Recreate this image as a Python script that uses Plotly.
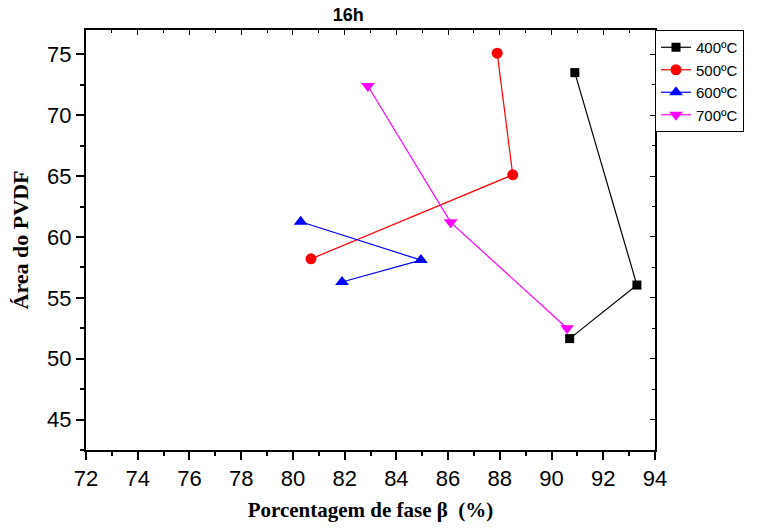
import plotly.graph_objects as go

series_names = ["400ºC", "500ºC", "600ºC", "700ºC"]
x_400 = [90.9, 93.3, 90.7]
y_400 = [73.5, 56.05, 51.65]
x_500 = [87.9, 88.5, 80.7]
y_500 = [75.1, 65.1, 58.2]
x_600 = [80.3, 84.95, 81.9]
y_600 = [61.25, 58.1, 56.3]
x_700 = [82.9, 86.1, 90.6]
y_700 = [72.4, 61.2, 52.5]

colors = ["black", "red", "blue", "magenta"]
symbols = ["square", "circle", "triangle-up", "triangle-down"]
sizes = [9, 11, 12, 12]
xs = [x_400, x_500, x_600, x_700]
ys = [y_400, y_500, y_600, y_700]

fig = go.Figure()
for name, x, y, c, s, sz in zip(series_names, xs, ys, colors, symbols, sizes):
    fig.add_trace(go.Scatter(x=x, y=y, name=name, mode="lines+markers",
                             line=dict(color=c, width=1.2),
                             marker=dict(color=c, symbol=s, size=sz)))

# invisible trace to carry the mirrored (top/right) axes
fig.add_trace(go.Scatter(x=[], y=[], xaxis="x2", yaxis="y2", showlegend=False, hoverinfo="skip"))

xr = [72, 94]
yr = [42.5, 77]
axfont = dict(family="Arial, Liberation Sans", size=22, color="black")
fig.update_layout(
    width=762, height=529,
    margin=dict(l=86, r=107, t=30, b=79),
    paper_bgcolor="white", plot_bgcolor="white",
    title=dict(text="<b>16h</b>", x=0.457, xanchor="center", y=0.985, yanchor="top",
               font=dict(family="Arial, Liberation Sans", size=18, color="black")),
    xaxis=dict(range=xr, dtick=2, tick0=72, showgrid=False, zeroline=False, automargin=False,
               showline=True, linecolor="black", linewidth=2,
               ticks="outside", ticklen=8, tickwidth=1.5, tickcolor="black",
               minor=dict(dtick=1, ticks="outside", ticklen=4, tickwidth=1.5, tickcolor="black"),
               tickfont=axfont,
               title=dict(text="<b>Porcentagem de fase β  (%)</b>", standoff=12,
                          font=dict(family="Liberation Serif, Times New Roman", size=21, color="black"))),
    yaxis=dict(range=yr, dtick=5, tick0=45, showgrid=False, zeroline=False, automargin=False,
               showline=True, linecolor="black", linewidth=2,
               ticks="outside", ticklen=8, tickwidth=1.5, tickcolor="black",
               minor=dict(dtick=2.5, ticks="outside", ticklen=4, tickwidth=1.5, tickcolor="black"),
               tickfont=axfont,
               title=dict(text="<b>Área do PVDF</b>", standoff=12,
                          font=dict(family="Liberation Serif, Times New Roman", size=22, color="black"))),
    xaxis2=dict(range=xr, dtick=2, tick0=72, overlaying="x", side="top", anchor="y",
                showgrid=False, zeroline=False, showline=True, linecolor="black", linewidth=2,
                ticks="inside", ticklen=5, tickwidth=1, tickcolor="black",
                minor=dict(dtick=1, ticks="inside", ticklen=3, tickwidth=1, tickcolor="black"),
                showticklabels=False),
    yaxis2=dict(range=yr, dtick=5, tick0=45, overlaying="y", side="right", anchor="x",
                showgrid=False, zeroline=False, showline=True, linecolor="black", linewidth=2,
                ticks="inside", ticklen=5, tickwidth=1, tickcolor="black",
                minor=dict(dtick=2.5, ticks="inside", ticklen=3, tickwidth=1, tickcolor="black"),
                showticklabels=False),
    legend=dict(x=1.0, xanchor="left", y=1.0, yanchor="top",
                bordercolor="black", borderwidth=1, bgcolor="white",
                font=dict(family="Arial, Liberation Sans", size=15, color="black"),
                tracegroupgap=0, itemwidth=30),
    showlegend=True,
)

fig.write_html("out.html")
